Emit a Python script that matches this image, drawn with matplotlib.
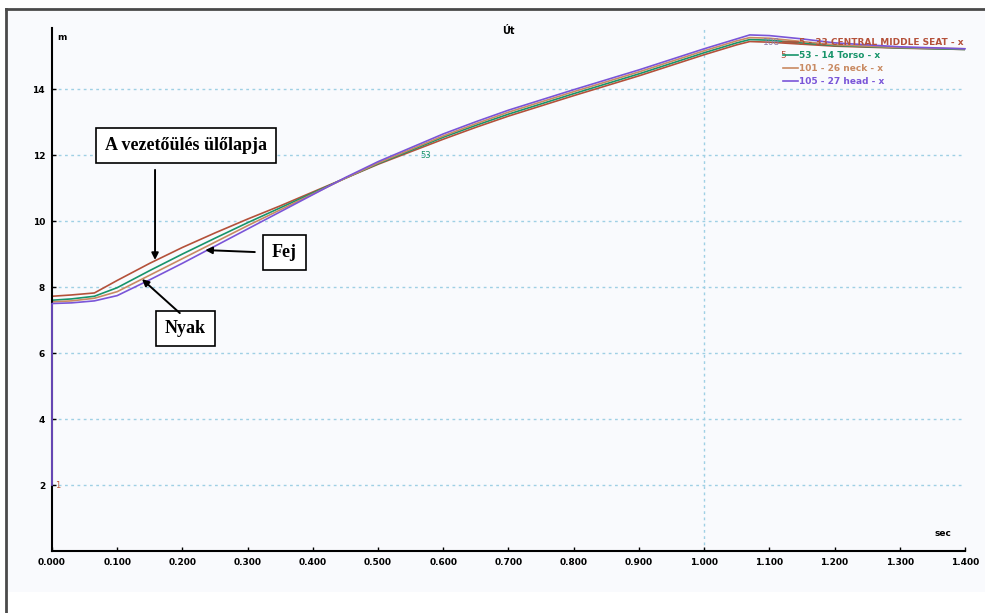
import matplotlib
matplotlib.use('Agg')
import matplotlib.pyplot as plt
from matplotlib.patches import Rectangle
from matplotlib.lines import Line2D

# time axis (sec)
t = [0.0, 0.03, 0.065, 0.1, 0.15, 0.2, 0.25, 0.3, 0.35, 0.4, 0.45, 0.5, 0.55, 0.6, 0.65,
     0.7, 0.75, 0.8, 0.85, 0.9, 0.95, 1.0, 1.05, 1.07, 1.1, 1.15, 1.2, 1.3, 1.4]

seat = [7.72, 7.76, 7.82, 8.20, 8.72, 9.20, 9.64, 10.06, 10.46, 10.88, 11.30, 11.72, 12.10, 12.48, 12.84,
        13.18, 13.49, 13.80, 14.10, 14.40, 14.72, 15.04, 15.34, 15.44, 15.42, 15.36, 15.30, 15.24, 15.20]
torso = [7.60, 7.64, 7.72, 7.98, 8.50, 9.00, 9.48, 9.95, 10.40, 10.85, 11.30, 11.74, 12.14, 12.54, 12.90,
         13.24, 13.55, 13.86, 14.16, 14.46, 14.78, 15.10, 15.40, 15.50, 15.48, 15.40, 15.32, 15.25, 15.20]
neck = [7.55, 7.58, 7.66, 7.86, 8.36, 8.86, 9.36, 9.86, 10.34, 10.82, 11.30, 11.76, 12.17, 12.58, 12.95,
        13.30, 13.61, 13.92, 14.22, 14.52, 14.84, 15.16, 15.46, 15.56, 15.54, 15.44, 15.34, 15.26, 15.22]
head = [7.50, 7.52, 7.58, 7.74, 8.22, 8.72, 9.24, 9.76, 10.28, 10.80, 11.32, 11.80, 12.22, 12.64, 13.01,
        13.36, 13.67, 13.98, 14.28, 14.58, 14.90, 15.22, 15.52, 15.64, 15.62, 15.52, 15.40, 15.28, 15.22]
head_start = 2.0  # head trace starts at 2 m at t=0

labels = ['5 - 33 CENTRAL MIDDLE SEAT - x', '53 - 14 Torso - x', '101 - 26 neck - x', '105 - 27 head - x']
colors = ['#b4513a', '#17946a', '#c98a62', '#7a55d8']

xticks = [0.0, 0.1, 0.2, 0.3, 0.4, 0.5, 0.6, 0.7, 0.8, 0.9, 1.0, 1.1, 1.2, 1.3, 1.4]
yticks = [2, 4, 6, 8, 10, 12, 14]

W, H = 985, 613
fig = plt.figure(figsize=(W / 100, H / 100), dpi=100, facecolor='white')

# panel background + frame
fig.patches.append(Rectangle((6 / W, 1 - 592 / H), 1 - 6 / W, (592 - 9) / H,
                             transform=fig.transFigure, facecolor='#f9fafd', edgecolor='none', zorder=-10))
fig.lines.append(Line2D([6 / W, 1], [1 - 9 / H, 1 - 9 / H], transform=fig.transFigure, color='#4a4a4a', lw=2))
fig.lines.append(Line2D([6 / W, 6 / W], [0, 1 - 9 / H], transform=fig.transFigure, color='#4a4a4a', lw=2))

ax = fig.add_axes([52 / W, 1 - 551 / H, (965 - 52) / W, (551 - 28) / H])
ax.set_facecolor('none')

for ys, lab, c in zip([seat, torso, neck, head], labels, colors):
    if ys is head:
        ax.plot([t[0]] + t, [head_start] + ys, color=c, lw=1.2, label=lab, zorder=3, clip_on=False)
    else:
        ax.plot(t, ys, color=c, lw=1.2, label=lab)

ax.set_xlim(0, 1.4)
ax.set_ylim(0, 15.85)
ax.set_xticks(xticks)
ax.set_xticklabels(['%.3f' % v for v in xticks], fontsize=6.5, fontweight='bold')
ax.set_yticks(yticks)
ax.set_yticklabels([str(v) for v in yticks], fontsize=6.5, fontweight='bold')
ax.tick_params(direction='in', length=3, width=1, pad=5)
for s in ['top', 'right']:
    ax.spines[s].set_visible(False)
for s in ['left', 'bottom']:
    ax.spines[s].set_linewidth(1.5)

for y in yticks:
    ax.axhline(y, color='#9fd0e4', lw=1, ls=(0, (2, 2.5)), zorder=0)
ax.axvline(1.0, color='#9fd0e4', lw=1, ls=(0, (2, 2.5)), zorder=0)

ax.text(0.5, 0.994, 'Út', transform=ax.transAxes, ha='center', va='center', fontsize=7, fontweight='bold')
ax.text(0.006, 0.99, 'm', transform=ax.transAxes, ha='left', va='top', fontsize=6.5, fontweight='bold')
ax.text(0.985, 0.025, 'sec', transform=ax.transAxes, ha='right', va='bottom', fontsize=6.5, fontweight='bold')

# curve id labels
ax.text(0.004, head_start, '1', color='#c0583a', fontsize=6, va='center')
ax.text(0.565, 12.0, '53', color=colors[1], fontsize=6, va='center')
ax.text(1.117, 15.42, '108', color='#8a7aa8', fontsize=6.5, va='center', ha='right')
ax.text(1.126, 15.03, '5', color=colors[0], fontsize=6.5, va='center', ha='right')

ax.legend(loc='upper left', bbox_to_anchor=(0.796, 0.99), frameon=False,
          prop={'size': 6.5, 'weight': 'bold'}, handlelength=1.6, handletextpad=0.1,
          labelspacing=0.45, borderpad=0, labelcolor='linecolor')

# annotations
serif = dict(family='Liberation Serif', fontweight='bold', fontsize=13)
box = dict(boxstyle='square,pad=0.5', fc='white', ec='black', lw=1.2)
arr = dict(arrowstyle='-|>', color='black', lw=1.4, mutation_scale=10, shrinkA=0, shrinkB=0)

ax.text(0.2055, 12.3, 'A vezetőülés ülőlapja', ha='center', va='center', bbox=box, **serif)
ax.annotate('', xy=(0.158, 8.82), xytext=(0.158, 11.55), arrowprops=arr)

ax.text(0.356, 9.06, 'Fej', ha='center', va='center', bbox=box, **serif)
ax.annotate('', xy=(0.235, 9.12), xytext=(0.311, 9.06), arrowprops=arr)

ax.text(0.204, 6.73, 'Nyak', ha='center', va='center', bbox=box, **serif)
ax.annotate('', xy=(0.138, 8.24), xytext=(0.196, 7.21), arrowprops=arr)

fig.savefig('out.png', dpi=100, facecolor='white')
